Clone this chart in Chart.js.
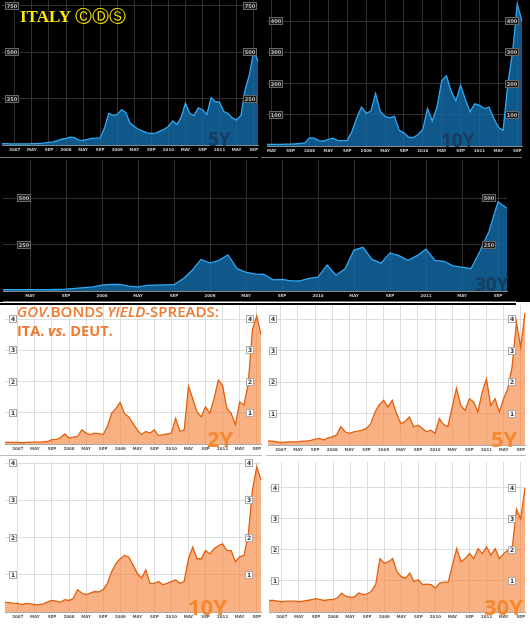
<!DOCTYPE html>
<html>
<head>
<meta charset="utf-8">
<script src="https://cdn.jsdelivr.net/npm/chart.js@4"></script>
<style>
body { margin: 0; width: 530px; height: 625px; background: #fff; position: relative; overflow: hidden; font-family: 'Open Sans', sans-serif; }
canvas, .t, .ln { position: absolute; }
#top { position: absolute; left: 0; top: 0; width: 530px; height: 302px; background: #000; }
.ln { height: 1px; background: #777; }
.t { white-space: nowrap; line-height: 1; }
.cds { color: #173d5f; font-weight: 700; font-size: 19px; }
.spr { color: #f5892f; font-weight: 700; font-size: 22px; }
.ttl { color: #ee7b30; font-weight: 600; font-size: 15px; }
</style>
</head>
<body>
<div id="top"></div>
<div class="ln" style="left:0;top:303px;width:516px;height:1.5px;background:#000"></div>

<canvas id="cds5y" width="262" height="155" style="left:0;top:0"></canvas>
<canvas id="cds10y" width="265" height="156" style="left:265px;top:0"></canvas>
<canvas id="cds30y" width="530" height="144" style="left:0;top:157px"></canvas>
<canvas id="spr2y" width="263" height="151" style="left:0;top:303px"></canvas>
<canvas id="spr5y" width="265" height="152" style="left:265px;top:303px"></canvas>
<canvas id="spr10y" width="263" height="164" style="left:0;top:458px"></canvas>
<canvas id="spr30y" width="265" height="164" style="left:265px;top:458px"></canvas>

<div class="ln" style="left:0;top:157px;width:258px"></div>
<div class="ln" style="left:261px;top:157px;width:261px"></div>
<div class="ln" style="left:3px;top:301px;width:513px"></div>
<div class="ln" style="left:0;top:455px;width:262px;background:#bbb"></div>
<div class="ln" style="left:266px;top:455px;width:260px;background:#bbb"></div>

<div class="t" style="left:20px;top:8px;color:#ffea00;font-family:'Liberation Serif';font-weight:700;font-size:17px">ITALY <span style="font-family:'DejaVu Sans';font-weight:400;font-size:17px">ⒸⒹⓈ</span></div>
<div class="t cds" style="left:208px;top:130px">5Y</div>
<div class="t cds" style="left:441px;top:131px">10Y</div>
<div class="t cds" style="left:475px;top:275px">30Y</div>

<div class="t ttl" style="left:17px;top:304px"><i>GOV.</i>BONDS <i>YIELD</i>-SPREADS:</div>
<div class="t ttl" style="left:17px;top:324px;font-weight:700;font-size:14.5px">ITA. <i>vs.</i> DEUT.</div>
<div class="t spr" style="left:207px;top:427px">2Y</div>
<div class="t spr" style="left:491px;top:427px">5Y</div>
<div class="t spr" style="left:188px;top:595px">10Y</div>
<div class="t spr" style="left:484px;top:595px">30Y</div>

<script>
// months Oct 2006 - Oct 2011
const months = [
  '2006-10','2006-11','2006-12',
  '2007-01','2007-02','2007-03','2007-04','2007-05','2007-06','2007-07','2007-08','2007-09','2007-10','2007-11','2007-12',
  '2008-01','2008-02','2008-03','2008-04','2008-05','2008-06','2008-07','2008-08','2008-09','2008-10','2008-11','2008-12',
  '2009-01','2009-02','2009-03','2009-04','2009-05','2009-06','2009-07','2009-08','2009-09','2009-10','2009-11','2009-12',
  '2010-01','2010-02','2010-03','2010-04','2010-05','2010-06','2010-07','2010-08','2010-09','2010-10','2010-11','2010-12',
  '2011-01','2011-02','2011-03','2011-04','2011-05','2011-06','2011-07','2011-08','2011-09','2011-10'
];
const months10y = months.slice(6);   // from Apr 2007
const months30y = months.slice(4);   // from Feb 2007

// x tick labels: January shows the year
const tickMonths = ['01', '05', '09'];
const tickNames = [null, 'MAY', 'SEP'];

// Italy CDS, basis points
const cds5y = [
  7, 7, 6,
  6, 6, 6, 6, 7, 7, 9, 11, 14, 17, 24, 31,
  36, 42, 40, 26, 25, 30, 36, 37, 38, 90, 170, 160,
  165, 190, 175, 120, 100, 85, 75, 65, 62, 64, 75, 85,
  100, 130, 110, 150, 225, 170, 160, 200, 190, 165, 255, 235,
  230, 180, 170, 145, 135, 160, 300, 380, 510, 450
];
const cds10y = [
  5, 5, 5, 5, 6, 6, 7, 8, 10,
  26, 25, 17, 16, 21, 25, 17, 17, 18, 47, 90, 125,
  105, 112, 168, 110, 95, 90, 95, 50, 42, 28, 27, 37,
  53, 120, 80, 125, 210, 225, 175, 145, 195, 150, 110, 135,
  130, 120, 125, 90, 60, 50, 200, 300, 455, 400
];
const cds30y = [
  7, 7, 7, 7, 7, 7, 8, 10, 14, 18, 22,
  32, 35, 36, 26, 22, 30, 32, 33, 34, 65, 110, 170,
  150, 165, 195, 120, 100, 92, 90, 60, 63, 55, 55, 68,
  74, 140, 85, 120, 220, 235, 170, 150, 205, 190, 165, 190,
  225, 165, 160, 135, 128, 120, 215, 320, 480, 445
];
const cdsTicks5y = [250, 500, 750];
const cdsTicks10y = [100, 200, 300, 400];
const cdsTicks30y = [250, 500];

// Italy vs Germany government bond yield spreads, percentage points
const spread2y = [
  0.06, 0.05, 0.05,
  0.05, 0.04, 0.05, 0.06, 0.06, 0.06, 0.07, 0.08, 0.14, 0.15, 0.20, 0.32,
  0.19, 0.22, 0.24, 0.45, 0.35, 0.30, 0.35, 0.33, 0.30, 0.56, 0.98, 1.14,
  1.33, 0.98, 0.87, 0.66, 0.45, 0.30, 0.40, 0.35, 0.45, 0.27, 0.30, 0.32,
  0.36, 0.82, 0.40, 0.45, 1.85, 1.45, 1.03, 0.87, 1.19, 0.98, 1.45, 2.05,
  1.87, 1.14, 0.98, 0.62, 1.35, 1.24, 1.93, 3.66, 4.10, 3.50
];
const spread5y = [
  0.13, 0.12, 0.10,
  0.08, 0.09, 0.10, 0.10, 0.10, 0.12, 0.12, 0.15, 0.19, 0.21, 0.16, 0.23,
  0.26, 0.32, 0.58, 0.42, 0.37, 0.42, 0.44, 0.47, 0.53, 0.68, 1.05, 1.28,
  1.42, 1.21, 1.42, 1.00, 0.68, 0.74, 0.89, 0.58, 0.63, 0.53, 0.42, 0.47,
  0.37, 0.84, 0.65, 0.58, 1.20, 1.80, 1.26, 1.10, 1.47, 1.37, 1.05, 1.68,
  2.10, 1.26, 1.47, 1.05, 1.47, 1.79, 2.50, 3.90, 3.10, 4.20
];
const spread10y = [
  0.26, 0.25, 0.23,
  0.23, 0.20, 0.23, 0.22, 0.20, 0.20, 0.22, 0.27, 0.31, 0.29, 0.26, 0.33,
  0.31, 0.36, 0.60, 0.51, 0.47, 0.51, 0.55, 0.54, 0.60, 0.77, 1.08, 1.30,
  1.43, 1.52, 1.48, 1.26, 1.04, 0.91, 1.13, 0.77, 0.77, 0.82, 0.73, 0.77,
  0.82, 0.86, 0.77, 0.82, 1.43, 1.74, 1.43, 1.43, 1.65, 1.56, 1.70, 1.78,
  1.83, 1.65, 1.65, 1.35, 1.48, 1.52, 2.05, 3.28, 3.90, 3.55
];
const spread30y = [
  0.37, 0.37, 0.35,
  0.33, 0.35, 0.35, 0.35, 0.33, 0.35, 0.37, 0.40, 0.43, 0.40, 0.37, 0.40,
  0.40, 0.45, 0.61, 0.51, 0.48, 0.48, 0.61, 0.56, 0.58, 0.67, 0.88, 1.72,
  1.57, 1.62, 1.72, 1.30, 1.14, 1.09, 1.25, 0.98, 1.04, 0.88, 0.90, 0.88,
  0.77, 0.93, 0.96, 0.96, 1.51, 2.04, 1.62, 1.72, 1.88, 1.72, 2.04, 1.88,
  2.10, 1.83, 2.04, 1.72, 1.88, 1.99, 2.04, 3.31, 3.00, 4.00
];
const spreadTicks = [1, 2, 3, 4];

function tickText(label) {
    const parts = label.split('-');
    const i = tickMonths.indexOf(parts[1]);
    if (i < 0) return '';
    return tickNames[i] || parts[0];
}

// Small boxed value labels drawn inside the plot, left and right
const boxLabels = {
    id: 'boxLabels',
    afterDatasetsDraw(chart, args, opts) {
        const ctx = chart.ctx;
        const yScale = chart.scales.y;
        ctx.save();
        ctx.font = opts.font;
        ctx.textAlign = 'center';
        ctx.textBaseline = 'middle';
        ctx.lineWidth = 1;
        opts.values.forEach(v => {
            const py = Math.round(yScale.getPixelForValue(v));
            const w = Math.round(ctx.measureText(String(v)).width) + 4;
            [opts.left, opts.right].forEach(px => {
                ctx.fillStyle = opts.box;
                ctx.fillRect(px - w / 2, py - 4, w, 8);
                ctx.strokeStyle = opts.edge;
                ctx.strokeRect(px - w / 2 + 0.5, py - 3.5, w - 1, 7);
                ctx.fillStyle = opts.color;
                ctx.fillText(String(v), px, py + 0.5);
            });
        });
        ctx.restore();
    }
};

const darkTheme = {
    line: '#2ea8f2', fill: 'rgba(20,110,172,0.8)', grid: '#2f2f2f', axis: '#888',
    tick: '#c8c8c8', box: '#1c1c1c', edge: '#666', boxText: '#bbbbbb', boxFont: 'bold 5px "DejaVu Sans"'
};
const lightTheme = {
    line: '#e2600f', fill: 'rgba(246,132,60,0.64)', grid: '#dddddd', axis: '#aaa',
    tick: '#555555', box: '#ffffff', edge: '#aaa', boxText: '#333333', boxFont: 'bold 6px "DejaVu Sans"'
};

function makeChart(id, labels, values, yMax, yTicks, theme, pad, labelX) {
    new Chart(document.getElementById(id), {
        type: 'line',
        data: {
            labels: labels,
            datasets: [{
                data: values,
                borderColor: theme.line,
                backgroundColor: theme.fill,
                borderWidth: 1.3,
                pointRadius: 0,
                tension: 0,
                fill: 'origin'
            }]
        },
        options: {
            responsive: false,
            animation: false,
            events: [],
            layout: { padding: pad },
            plugins: {
                legend: { display: false },
                tooltip: { enabled: false },
                boxLabels: {
                    values: yTicks, left: labelX[0], right: labelX[1],
                    font: theme.boxFont, box: theme.box, edge: theme.edge, color: theme.boxText
                }
            },
            scales: {
                x: {
                    grid: {
                        drawTicks: false,
                        color: c => (c.index !== undefined && tickText(labels[c.index] || '') !== '') ? theme.grid : 'rgba(0,0,0,0)'
                    },
                    border: { display: true, color: theme.axis },
                    ticks: {
                        autoSkip: false, maxRotation: 0, minRotation: 0, padding: 2,
                        color: theme.tick,
                        font: { size: 4, lineHeight: 1.5, weight: 'bold', family: 'DejaVu Sans' },
                        callback: function (v) { return tickText(this.getLabelForValue(v)); }
                    }
                },
                y: {
                    min: 0,
                    max: yMax,
                    afterBuildTicks: ax => { ax.ticks = yTicks.map(v => ({ value: v })); },
                    grid: { drawTicks: false, color: theme.grid },
                    border: { display: false },
                    ticks: { display: false }
                }
            }
        },
        plugins: [boxLabels]
    });
}

makeChart('cds5y', months, cds5y, 782, cdsTicks5y, darkTheme, { left: 2, right: 4, top: 0, bottom: 0 }, [12, 250]);
makeChart('cds10y', months10y, cds10y, 468, cdsTicks10y, darkTheme, { left: 2, right: 8, top: 0, bottom: 0 }, [11, 247]);
makeChart('cds30y', months30y, cds30y, 705, cdsTicks30y, darkTheme, { left: 3, right: 23, top: 3, bottom: 0 }, [24, 489]);
makeChart('spr2y', months, spread2y, 4.45, spreadTicks, lightTheme, { left: 5, right: 2, top: 2, bottom: 0 }, [13, 250]);
makeChart('spr5y', months, spread5y, 4.45, spreadTicks, lightTheme, { left: 3, right: 5, top: 2, bottom: 0 }, [8, 247]);
makeChart('spr10y', months, spread10y, 4.03, spreadTicks, lightTheme, { left: 5, right: 2, top: 4, bottom: 0 }, [13, 249]);
makeChart('spr30y', months, spread30y, 4.83, spreadTicks, lightTheme, { left: 4, right: 5, top: 4, bottom: 0 }, [10, 247]);
</script>
</body>
</html>
